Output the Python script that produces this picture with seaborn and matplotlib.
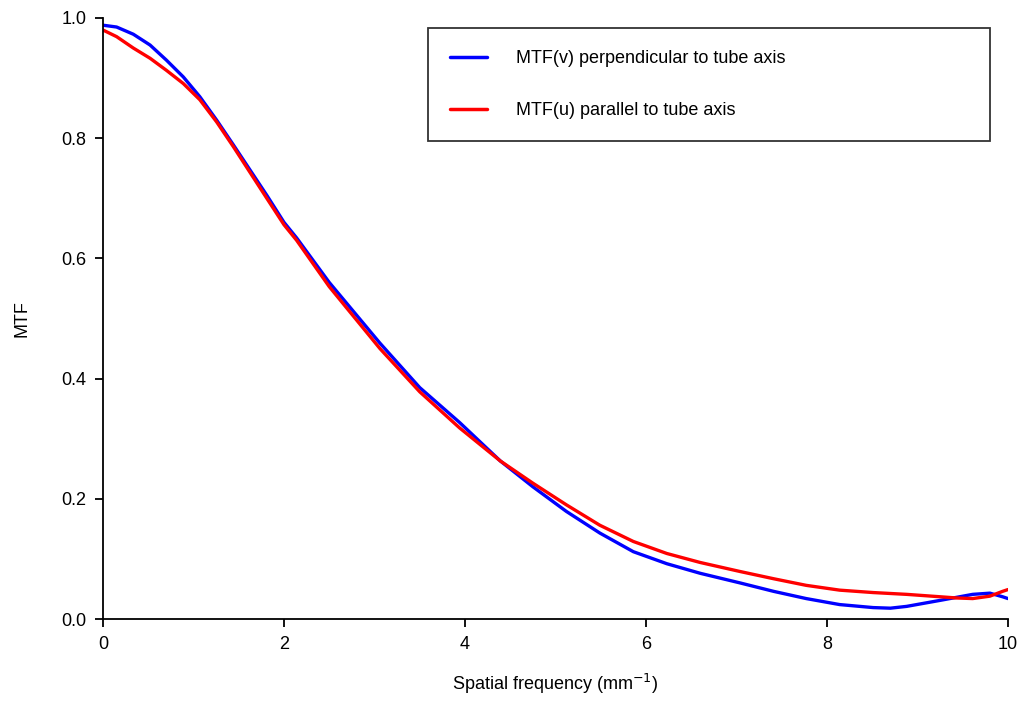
import numpy as np
import pandas as pd
import matplotlib
matplotlib.use("Agg")
import matplotlib.pyplot as plt
import seaborn as sns

# Data
freq_v = [0.0, 0.15, 0.335, 0.52, 0.70, 0.887, 1.07, 1.256, 1.44, 1.81, 2.0,
          2.14, 2.5, 3.06, 3.5, 3.94, 4.39, 4.75, 5.12, 5.49, 5.86, 6.23, 6.60,
          7.04, 7.41, 7.77, 8.14, 8.51, 8.70, 8.88, 9.25, 9.43, 9.61, 9.80,
          9.94, 10.0]
mtf_v = [0.988, 0.985, 0.973, 0.955, 0.930, 0.902, 0.869, 0.830, 0.789, 0.705,
         0.660, 0.634, 0.560, 0.459, 0.385, 0.327, 0.263, 0.220, 0.179, 0.143,
         0.112, 0.092, 0.076, 0.060, 0.046, 0.034, 0.024, 0.019, 0.018, 0.021,
         0.031, 0.036, 0.041, 0.043, 0.037, 0.034]

freq_u = [0.0, 0.15, 0.335, 0.52, 0.70, 0.887, 1.07, 1.256, 1.44, 1.81, 2.0,
          2.14, 2.5, 3.06, 3.5, 3.94, 4.39, 4.75, 5.12, 5.49, 5.86, 6.23, 6.60,
          7.04, 7.41, 7.77, 8.14, 8.51, 8.88, 9.25, 9.43, 9.61, 9.80, 9.94,
          10.0]
mtf_u = [0.980, 0.969, 0.950, 0.933, 0.913, 0.891, 0.864, 0.827, 0.786, 0.700,
         0.656, 0.630, 0.553, 0.450, 0.378, 0.318, 0.263, 0.226, 0.190, 0.156,
         0.129, 0.109, 0.094, 0.079, 0.067, 0.056, 0.048, 0.044, 0.041, 0.037,
         0.035, 0.034, 0.038, 0.046, 0.049]

label_v = "MTF(v) perpendicular to tube axis"
label_u = "MTF(u) parallel to tube axis"

df = pd.concat([
    pd.DataFrame({"freq": freq_v, "mtf": mtf_v, "series": label_v}),
    pd.DataFrame({"freq": freq_u, "mtf": mtf_u, "series": label_u}),
])

sns.set_style("ticks")
plt.rcParams["font.family"] = ["Liberation Sans", "DejaVu Sans"]
plt.rcParams["text.color"] = "black"
plt.rcParams["axes.labelcolor"] = "black"

fig = plt.figure(figsize=(10.27, 7.27), dpi=100)
ax = fig.add_axes([103 / 1027, 108 / 727, 905 / 1027, 601 / 727])

sns.lineplot(data=df, x="freq", y="mtf", hue="series", sort=False,
             palette={label_v: "#0000ff", label_u: "#ff0000"},
             linewidth=2.4, ax=ax, estimator=None)

ax.set_xlim(0, 10)
ax.set_ylim(0, 1.0)
ax.set_xticks([0, 2, 4, 6, 8, 10])
ax.set_yticks([0.0, 0.2, 0.4, 0.6, 0.8, 1.0])
ax.set_yticklabels(["0.0", "0.2", "0.4", "0.6", "0.8", "1.0"])
ax.tick_params(axis="both", direction="out", length=6, width=1.3,
               labelsize=13, pad=6, colors="black")
for s in ["left", "bottom"]:
    ax.spines[s].set_linewidth(1.3)
    ax.spines[s].set_color("black")
sns.despine(ax=ax)

ax.set_xlabel("Spatial frequency (mm$^{-1}$)", fontsize=13, labelpad=14)
ax.set_ylabel("MTF", fontsize=13, labelpad=22)

leg = ax.legend(loc="lower left",
                bbox_to_anchor=(428 / 1027, (727 - 141) / 727, 562 / 1027, 113 / 727),
                bbox_transform=fig.transFigure, mode="expand",
                fontsize=13, frameon=True, fancybox=False,
                handlelength=2.05, handletextpad=1.65, labelspacing=1.95,
                borderpad=1.2, borderaxespad=0)
leg.get_frame().set_edgecolor("black")
leg.get_frame().set_linewidth(1.3)
for t in leg.get_texts():
    t.set_color("black")
for line in leg.get_lines():
    line.set_linewidth(2.5)

fig.savefig("out.png", dpi=100)
